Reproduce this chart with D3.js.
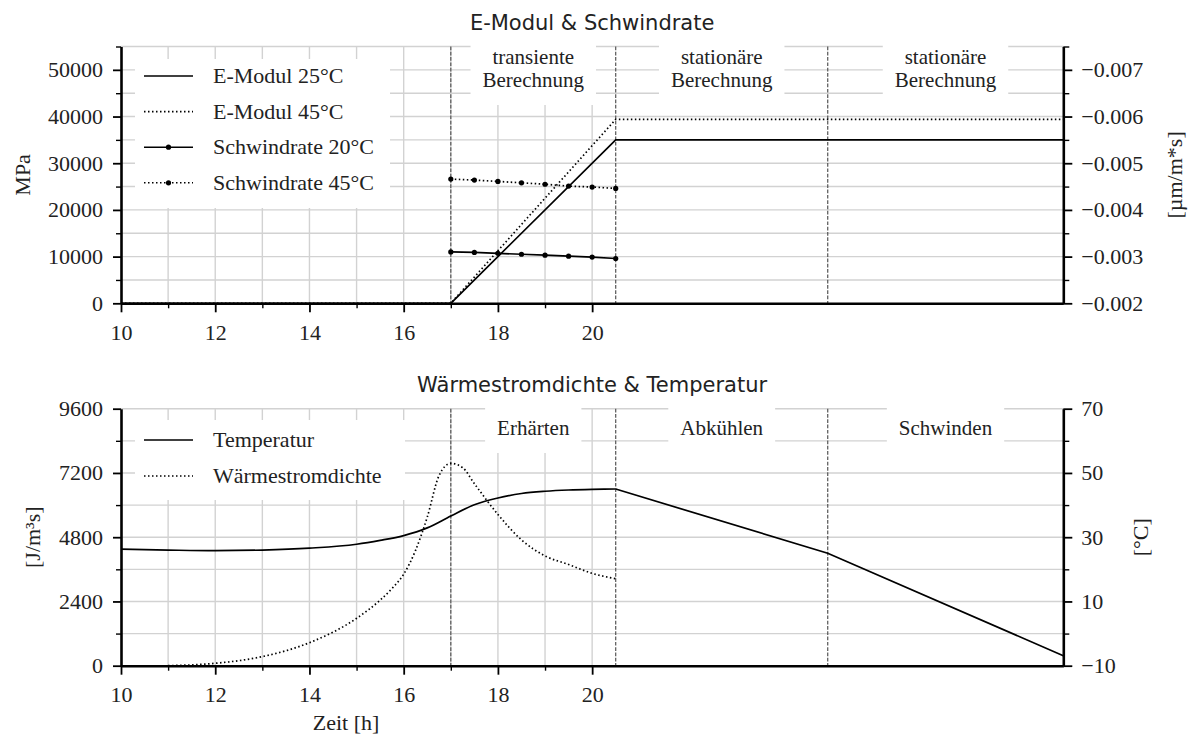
<!DOCTYPE html>
<html>
<head>
<meta charset="utf-8">
<script src="https://cdn.jsdelivr.net/npm/d3@7"></script>
<style>
  body { margin: 0; background: #fff; }
  svg text { fill: #222; }
</style>
</head>
<body>
<svg id="chart" width="1193" height="735"></svg>
<script>
// ---- Zeitachse [h] ----
const hourTicks = [10, 12, 14, 16, 18, 20];
const hourMinorTicks = [11, 13, 15, 17, 19];
const hourGrid = [11, 12, 13, 14, 15, 16, 17, 18, 19, 20];
const phaseBounds = [17, 20.5, 25];

// ---- E-Modul [MPa] ----
const eModHours = [10, 17, 20.5, 30];
const eMod25 = [0, 0, 35000, 35000];
const eMod45 = [0, 0, 39400, 39400];

// ---- Schwindrate [µm/m*s] ----
const shrinkHours = [17, 17.5, 18, 18.5, 19, 19.5, 20, 20.5];
const shrink20 = [-0.00310, -0.00309, -0.00307, -0.00305, -0.00303, -0.00301, -0.00299, -0.00296];
const shrink45 = [-0.00466, -0.00464, -0.00461, -0.00458, -0.00455, -0.00451, -0.00449, -0.00446];

// ---- Wärmestromdichte [J/m³s] ----
const fluxHours = [11, 12, 13, 14, 15, 15.5, 15.75, 16, 16.25, 16.5, 16.75, 17, 17.25, 17.5, 18, 18.5, 19, 19.5, 20, 20.5];
const fluxValues = [0, 90, 340, 860, 1770, 2450, 2880, 3420, 4300, 5550, 7100, 7560, 7400, 6800, 5650, 4700, 4100, 3780, 3450, 3250];

// ---- Temperatur [°C] ----
const tempHours = [10, 11, 12, 13, 14, 15, 15.5, 16, 16.5, 17, 17.5, 18, 18.5, 19, 19.5, 20, 20.5, 25, 30];
const tempValues = [26.3, 26.0, 25.8, 26.0, 26.6, 27.8, 29.0, 30.5, 32.9, 36.6, 40.1, 42.2, 43.6, 44.3, 44.7, 44.9, 45.0, 25.0, -6.9];

// ---- Achsenteilung ----
const mpaTicks = [0, 10000, 20000, 30000, 40000, 50000];
const mpaMinor = [5000, 15000, 25000, 35000, 45000, 55000];
const shrinkTicks = [-0.002, -0.003, -0.004, -0.005, -0.006, -0.007];
const shrinkMinor = [-0.0025, -0.0035, -0.0045, -0.0055, -0.0065, -0.0075];
const fluxTicks = [0, 2400, 4800, 7200, 9600];
const fluxMinor = [1200, 3600, 6000, 8400];
const tempTicks = [-10, 10, 30, 50, 70];
const tempMinor = [0, 20, 40, 60];

// ---- Phasen-Beschriftung ----
const topPhaseLabels = [["transiente", "Berechnung"], ["stationäre", "Berechnung"], ["stationäre", "Berechnung"]];
const bottomPhaseLabels = [["Erhärten"], ["Abkühlen"], ["Schwinden"]];
const phaseStarts = [17, 20.5, 25];
const phaseEnds = [20.5, 25, 30];

// ---- Legenden ----
const topLegendLabels = ["E-Modul 25°C", "E-Modul 45°C", "Schwindrate 20°C", "Schwindrate 45°C"];
const bottomLegendLabels = ["Temperatur", "Wärmestromdichte"];

const SERIF = "'Liberation Serif', 'Times New Roman', serif";
const SANS = "'DejaVu Sans', sans-serif";
const DOTTED = "1.5 2.5";
const DASHED = "3.7 1.6";

const svg = d3.select("#chart");

const x = d3.scaleLinear().domain([10, 30]).range([121, 1063.3]);

function drawPanel(cfg) {
  const g = svg.append("g");
  const yL = cfg.yLeft, yR = cfg.yRight;
  const [yBottom, yTop] = yL.range();

  // Gitter
  const grid = g.append("g").attr("stroke", "#d2d2d2").attr("stroke-width", 1.4);
  grid.selectAll("line.h").data(cfg.leftTicks.concat(cfg.leftMinor).filter(v => v !== yL.domain()[0]))
    .join("line").attr("class", "h")
    .attr("x1", x.range()[0]).attr("x2", x.range()[1])
    .attr("y1", d => yL(d)).attr("y2", d => yL(d));
  grid.selectAll("line.v").data(hourGrid)
    .join("line").attr("class", "v")
    .attr("x1", d => x(d)).attr("x2", d => x(d))
    .attr("y1", yTop).attr("y2", yBottom);

  // Phasen-Kästen
  const boxes = g.append("g");
  cfg.phaseLabels.forEach((lines, i) => {
    const cx = (x(phaseStarts[i]) + x(phaseEnds[i])) / 2;
    const bg = boxes.append("g");
    const rect = bg.append("rect").attr("fill", "#fff");
    const t = bg.append("text")
      .attr("font-family", SERIF).attr("font-size", 21)
      .attr("text-anchor", "middle");
    lines.forEach((ln, j) => {
      t.append("tspan").attr("x", cx).attr("y", cfg.phaseBaseline + j * 23).text(ln);
    });
    let w = 0;
    t.selectAll("tspan").each(function () { w = Math.max(w, this.getComputedTextLength()); });
    rect.attr("x", cx - w / 2 - 12).attr("width", w + 24)
      .attr("y", cfg.boxTop).attr("height", cfg.boxBottom - cfg.boxTop);
  });

  // Phasengrenzen
  g.append("g").selectAll("line").data(phaseBounds).join("line")
    .attr("x1", d => x(d)).attr("x2", d => x(d))
    .attr("y1", yTop).attr("y2", yBottom)
    .attr("stroke", "#555").attr("stroke-width", 1.2)
    .attr("stroke-dasharray", DASHED);

  // Daten
  cfg.drawData(g);

  // Legende
  const leg = g.append("g");
  leg.append("rect").attr("x", cfg.legend.x0).attr("y", cfg.legend.y0)
    .attr("width", cfg.legend.x1 - cfg.legend.x0).attr("height", cfg.legend.y1 - cfg.legend.y0)
    .attr("fill", "#fff");
  cfg.legend.items.forEach((it, i) => {
    const yy = cfg.legend.firstRow + i * cfg.legend.step;
    leg.append("line").attr("x1", 144).attr("x2", 193).attr("y1", yy).attr("y2", yy)
      .attr("stroke", "#000").attr("stroke-width", 1.6)
      .attr("stroke-dasharray", it.dotted ? DOTTED : null);
    if (it.marker) leg.append("circle").attr("cx", 168.5).attr("cy", yy).attr("r", 2.6).attr("fill", "#000");
    leg.append("text").attr("x", 213).attr("y", yy).attr("dy", "0.33em")
      .attr("font-family", SERIF).attr("font-size", 22).text(it.label);
  });

  // Achsen
  const styleAxis = (sel, minor) => {
    sel.selectAll("text").attr("font-family", SERIF).attr("font-size", 22).attr("fill", "#222");
    sel.selectAll(".tick line").attr("stroke", "#000").attr("stroke-width", minor ? 1.4 : 1.8);
    sel.select(".domain").attr("stroke", minor ? "none" : "#000").attr("stroke-width", 2.6);
  };
  const ax = g.append("g");
  ax.append("g").attr("transform", `translate(${x.range()[0]},0)`)
    .call(d3.axisLeft(yL).tickValues(cfg.leftMinor).tickSize(5).tickFormat("").tickSizeOuter(0)).call(s => styleAxis(s, true));
  ax.append("g").attr("transform", `translate(${x.range()[0]},0)`)
    .call(d3.axisLeft(yL).tickValues(cfg.leftTicks).tickSize(8).tickPadding(10).tickFormat(d3.format("d")).tickSizeOuter(0)).call(s => styleAxis(s, false));
  ax.append("g").attr("transform", `translate(${x.range()[1]},0)`)
    .call(d3.axisRight(yR).tickValues(cfg.rightMinor).tickSize(6).tickFormat("").tickSizeOuter(0)).call(s => styleAxis(s, true));
  ax.append("g").attr("transform", `translate(${x.range()[1]},0)`)
    .call(d3.axisRight(yR).tickValues(cfg.rightTicks).tickSize(9).tickPadding(9).tickFormat(cfg.rightFormat).tickSizeOuter(0)).call(s => styleAxis(s, false));
  ax.append("g").attr("transform", `translate(0,${yBottom})`)
    .call(d3.axisBottom(x).tickValues(hourMinorTicks).tickSize(5).tickFormat("").tickSizeOuter(0)).call(s => styleAxis(s, true));
  ax.append("g").attr("transform", `translate(0,${yBottom})`)
    .call(d3.axisBottom(x).tickValues(hourTicks).tickSize(9).tickPadding(12).tickFormat(d3.format("d")).tickSizeOuter(0)).call(s => styleAxis(s, false));

  // Titel und Achsenbeschriftung
  g.append("text").attr("x", (x.range()[0] + x.range()[1]) / 2).attr("y", cfg.titleY)
    .attr("text-anchor", "middle").attr("font-family", SANS).attr("font-size", 21)
    .attr("fill", "#222").text(cfg.title);
  const midY = (yTop + yBottom) / 2;
  g.append("text").attr("transform", `translate(${cfg.leftLabelX},${midY}) rotate(-90)`)
    .attr("text-anchor", "middle").attr("dy", "0.35em")
    .attr("font-family", SERIF).attr("font-size", 22).text(cfg.leftLabel);
  g.append("text").attr("transform", `translate(${cfg.rightLabelX},${midY}) rotate(-90)`)
    .attr("text-anchor", "middle").attr("dy", "0.35em")
    .attr("font-family", SERIF).attr("font-size", 22).text(cfg.rightLabel);
}

// ---- Oberes Diagramm: E-Modul & Schwindrate ----
const yMpa = d3.scaleLinear().domain([0, 55000]).range([303.3, 46.5]);
const yShrink = d3.scaleLinear().domain([-0.002, -0.0075]).range([303.3, 46.5]);

drawPanel({
  yLeft: yMpa, yRight: yShrink,
  leftTicks: mpaTicks, leftMinor: mpaMinor,
  rightTicks: shrinkTicks, rightMinor: shrinkMinor,
  rightFormat: d3.format(".3f"),
  phaseLabels: topPhaseLabels, phaseBaseline: 64, boxTop: 38, boxBottom: 105,
  title: "E-Modul & Schwindrate", titleY: 30,
  leftLabel: "MPa", leftLabelX: 22,
  rightLabel: "[µm/m*s]", rightLabelX: 1174,
  legend: {
    x0: 135, x1: 390, y0: 59, y1: 208, firstRow: 76, step: 35.6,
    items: [
      { label: topLegendLabels[0], dotted: false, marker: false },
      { label: topLegendLabels[1], dotted: true, marker: false },
      { label: topLegendLabels[2], dotted: false, marker: true },
      { label: topLegendLabels[3], dotted: true, marker: true }
    ]
  },
  drawData: g => {
    const eLine = d3.line().x(d => x(d[0])).y(d => yMpa(d[1]));
    g.append("path").datum(d3.zip(eModHours, eMod25)).attr("d", eLine)
      .attr("fill", "none").attr("stroke", "#000").attr("stroke-width", 1.7);
    g.append("path").datum(d3.zip(eModHours, eMod45)).attr("d", eLine)
      .attr("fill", "none").attr("stroke", "#000").attr("stroke-width", 1.7).attr("stroke-dasharray", DOTTED);
    const sLine = d3.line().x(d => x(d[0])).y(d => yShrink(d[1]));
    [[shrink20, null], [shrink45, DOTTED]].forEach(([vals, dash]) => {
      const pts = d3.zip(shrinkHours, vals);
      g.append("path").datum(pts).attr("d", sLine)
        .attr("fill", "none").attr("stroke", "#000").attr("stroke-width", 1.7).attr("stroke-dasharray", dash);
      g.append("g").selectAll("circle").data(pts).join("circle")
        .attr("cx", d => x(d[0])).attr("cy", d => yShrink(d[1])).attr("r", 2.6).attr("fill", "#000");
    });
  }
});

// ---- Unteres Diagramm: Wärmestromdichte & Temperatur ----
const yFlux = d3.scaleLinear().domain([0, 9600]).range([665.7, 408.7]);
const yTemp = d3.scaleLinear().domain([-10, 70]).range([665.7, 408.7]);

drawPanel({
  yLeft: yFlux, yRight: yTemp,
  leftTicks: fluxTicks, leftMinor: fluxMinor,
  rightTicks: tempTicks, rightMinor: tempMinor,
  rightFormat: d3.format("d"),
  phaseLabels: bottomPhaseLabels, phaseBaseline: 435, boxTop: 402, boxBottom: 453,
  title: "Wärmestromdichte & Temperatur", titleY: 392,
  leftLabel: "[J/m³s]", leftLabelX: 32,
  rightLabel: "[°C]", rightLabelX: 1140,
  legend: {
    x0: 135, x1: 405, y0: 420, y1: 500, firstRow: 440, step: 36,
    items: [
      { label: bottomLegendLabels[0], dotted: false, marker: false },
      { label: bottomLegendLabels[1], dotted: true, marker: false }
    ]
  },
  drawData: g => {
    const fLine = d3.line().x(d => x(d[0])).y(d => yFlux(d[1])).curve(d3.curveMonotoneX);
    g.append("path").datum(d3.zip(fluxHours, fluxValues)).attr("d", fLine)
      .attr("fill", "none").attr("stroke", "#000").attr("stroke-width", 1.7).attr("stroke-dasharray", DOTTED);
    const temps = d3.zip(tempHours, tempValues);
    const tSmooth = d3.line().x(d => x(d[0])).y(d => yTemp(d[1])).curve(d3.curveMonotoneX);
    const tLinear = d3.line().x(d => x(d[0])).y(d => yTemp(d[1]));
    g.append("path").datum(temps.filter(d => d[0] <= 20.5)).attr("d", tSmooth)
      .attr("fill", "none").attr("stroke", "#000").attr("stroke-width", 1.7);
    g.append("path").datum(temps.filter(d => d[0] >= 20.5)).attr("d", tLinear)
      .attr("fill", "none").attr("stroke", "#000").attr("stroke-width", 1.7);
  }
});

// x-Achsenbeschriftung
svg.append("text").attr("x", 346).attr("y", 730).attr("text-anchor", "middle")
  .attr("font-family", SERIF).attr("font-size", 22).text("Zeit [h]");
</script>
</body>
</html>
